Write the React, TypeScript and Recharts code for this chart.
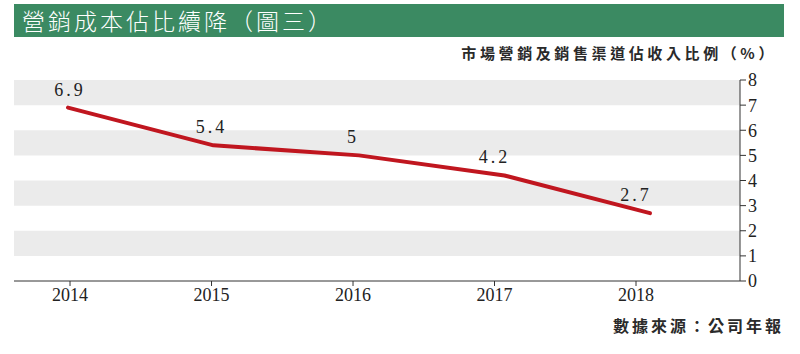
import { LineChart, Line, XAxis, YAxis, ReferenceArea, LabelList } from 'recharts';

const years = [2014, 2015, 2016, 2017, 2018];
const ratio = [6.9, 5.4, 5, 4.2, 2.7];
const yTicks = [0, 1, 2, 3, 4, 5, 6, 7, 8];
const bands = [
  [7, 8],
  [5, 6],
  [3, 4],
  [1, 2],
];

const title = '營銷成本佔比續降（圖三）';
const unitLabel = '市場營銷及銷售渠道佔收入比例（%）';
const source = '數據來源：公司年報';

const data = years.map((year, i) => ({ year, ratio: ratio[i] }));

const numFont = '"Liberation Serif", "Noto Sans CJK TC", serif';
const cjkFont = '"Noto Sans CJK TC", "Liberation Serif", serif';

export default function App() {
  return (
    <div style={{ position: 'absolute', left: 0, top: 0, width: 800, height: 354, background: '#fff', overflow: 'hidden' }}>
      <div
        style={{
          position: 'absolute',
          left: 14,
          top: 4,
          width: 770,
          height: 33,
          background: '#3b8a62',
          color: '#fff',
          fontFamily: cjkFont,
          fontSize: 23,
          lineHeight: '33px',
          letterSpacing: 3,
          paddingLeft: 8,
          boxSizing: 'border-box',
          fontWeight: 300,
        }}
      >
        {title}
      </div>
      <div
        style={{
          position: 'absolute',
          right: 23,
          top: 42,
          fontFamily: cjkFont,
          fontSize: 15,
          lineHeight: '22px',
          letterSpacing: 3.6,
          color: '#2a2a2a',
          fontWeight: 700,
        }}
      >
        {unitLabel}
      </div>
      <div
        style={{
          position: 'absolute',
          right: 16,
          top: 314,
          fontFamily: cjkFont,
          fontSize: 16,
          lineHeight: '22px',
          letterSpacing: 3,
          color: '#2a2a2a',
          fontWeight: 700,
        }}
      >
        {source}
      </div>
      <div style={{ position: 'absolute', left: 0, top: 0 }}>
        <LineChart width={800} height={354} data={data} margin={{ top: 80, right: 15, bottom: 43, left: 14 }}>
          <XAxis
            xAxisId="main"
            dataKey="year"
            type="number"
            domain={[2013.604, 2018.735]}
            ticks={years}
            allowDataOverflow
            height={30}
            stroke="#333"
            tickSize={5}
            tickMargin={2}
            tick={{ fontSize: 18, fill: '#222', fontFamily: numFont }}
          />
          <XAxis
            xAxisId="line"
            dataKey="year"
            type="number"
            domain={[2013.629, 2018.619]}
            allowDataOverflow
            height={0}
            hide
          />
          <YAxis
            orientation="right"
            domain={[0, 8]}
            ticks={yTicks}
            width={45}
            stroke="#333"
            tickSize={6}
            tickMargin={2}
            interval={0}
            tick={{ fontSize: 18, fill: '#222', fontFamily: numFont }}
          />
          {bands.map(([lo, hi]) => (
            <ReferenceArea
              key={lo}
              xAxisId="main"
              y1={lo}
              y2={hi}
              fill="#ebebeb"
              fillOpacity={1}
              stroke="none"
              ifOverflow="hidden"
            />
          ))}
          <Line
            xAxisId="line"
            dataKey="ratio"
            type="linear"
            stroke="#c0161f"
            strokeWidth={4}
            strokeLinejoin="round"
            strokeLinecap="round"
            dot={false}
            activeDot={false}
            isAnimationActive={false}
          />
          <Line
            xAxisId="main"
            dataKey="ratio"
            type="linear"
            stroke="none"
            dot={false}
            activeDot={false}
            isAnimationActive={false}
          >
            <LabelList
              dataKey="ratio"
              position="top"
              offset={12}
              style={{ fontSize: 18, fill: '#222', fontFamily: numFont, letterSpacing: 3 }}
            />
          </Line>
        </LineChart>
      </div>
    </div>
  );
}
